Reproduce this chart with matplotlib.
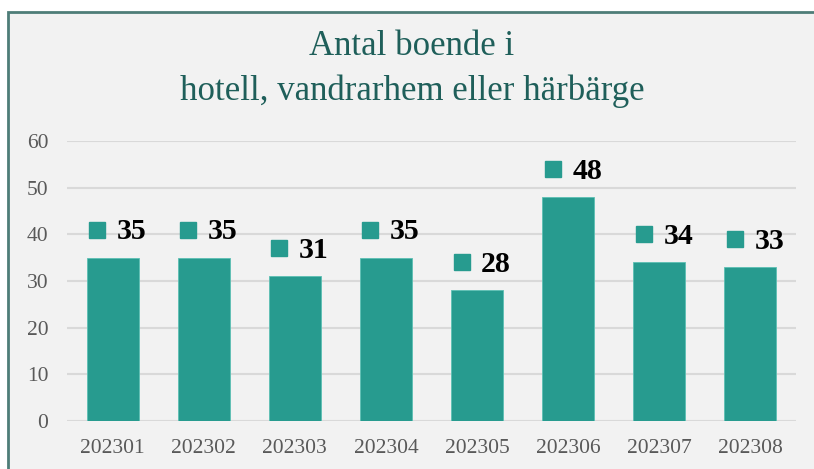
import numpy as np
import matplotlib.pyplot as plt
from matplotlib.patches import Rectangle
from matplotlib.transforms import ScaledTranslation

# data
months = ['202301', '202302', '202303', '202304', '202305', '202306', '202307', '202308']
boende = [35, 35, 31, 35, 28, 48, 34, 33]

plt.rcParams['font.family'] = ['Liberation Serif', 'DejaVu Serif']

fig = plt.figure(figsize=(8.14, 4.69), dpi=100)
fig.patch.set_facecolor('white')

# grey chart area with border, cut off at right/bottom like the screenshot
frame = Rectangle((8 / 814, -0.05), 1.0, 1 - 12 / 469 + 0.05, transform=fig.transFigure,
                  facecolor='#f2f2f2', edgecolor='#4e7d78', linewidth=2, clip_on=False, zorder=-10)
fig.patches.append(frame)

ax = fig.add_axes([67 / 814, 1 - 421 / 469, (796 - 67) / 814, (421 - 141) / 469])
ax.set_facecolor('none')

x = np.arange(len(months))
bar_color = '#279b8f'
ax.bar(x, boende, width=0.57, color=bar_color, edgecolor='#5cc0b3', linewidth=0.6, zorder=3)

# data labels: small square key + bold value, ~28 px above bar top
lift = ScaledTranslation(0, 28 / 100, fig.dpi_scale_trans)
for xi, v in zip(x, boende):
    ax.plot([xi - 0.17], [v], marker='s', markersize=11, color=bar_color, linestyle='none',
            transform=ax.transData + lift, clip_on=False, zorder=4)
    ax.annotate(str(v), xy=(xi, v), xytext=(4, 26), textcoords='offset pixels',
                ha='left', va='center', fontsize=21.5, fontweight='bold', color='black', zorder=4)

ax.set_xlim(-0.5, len(months) - 0.5)
ax.set_ylim(0, 60)
ax.set_yticks(range(0, 61, 10))
ax.set_xticks(x)
ax.set_xticklabels(months)
ax.grid(axis='y', color='#d9d9d9', linewidth=1.5, zorder=0)
ax.set_axisbelow(True)
for s in ax.spines.values():
    s.set_visible(False)
ax.tick_params(axis='both', length=0, labelsize=15.5, colors='#595959')
ax.tick_params(axis='x', pad=13)
ax.tick_params(axis='y', pad=13.5)

fig.text(412 / 814, 1 - 69 / 469, 'Antal boende i\nhotell, vandrarhem eller härbärge',
         ha='center', va='center', fontsize=25, color='#1f5f5a', linespacing=1.42)

plt.savefig('out.png', dpi=100, facecolor=fig.get_facecolor())
